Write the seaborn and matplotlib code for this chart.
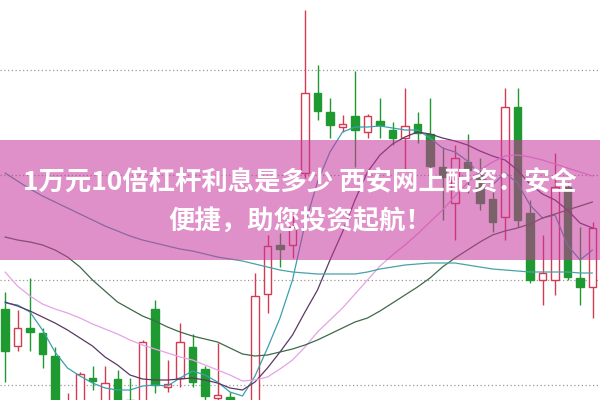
import numpy as np
import pandas as pd
import matplotlib
matplotlib.use("Agg")
import matplotlib.pyplot as plt
import seaborn as sns

# ---- data (prices) ----
opens = [8.91, 8.54, 8.72, 8.67, 8.44, 7.85, 7.80, 8.22, 7.85, 8.21, 8.00, 7.90, 8.91, 8.13, 8.22, 8.53,
         8.31, 8.02, 8.03, 7.85, 7.90, 9.06, 9.55, 9.55, 10.27, 11.07, 10.88, 10.73, 10.84, 10.68, 10.79, 10.70,
         10.62, 10.76, 10.66, 10.33, 9.97, 10.38, 10.25, 10.01, 9.83, 10.93, 9.87, 9.20, 9.20, 10.13, 9.22, 9.13]
highs = [9.08, 8.90, 9.22, 8.72, 8.53, 8.07, 8.28, 8.34, 8.34, 8.30, 8.22, 8.60, 9.00, 8.40, 8.77, 8.66,
         8.34, 8.57, 8.08, 7.97, 9.27, 9.65, 9.67, 9.85, 11.90, 11.35, 11.02, 10.85, 11.29, 10.86, 11.02, 10.78,
         11.12, 10.88, 11.02, 10.53, 10.55, 10.66, 10.42, 10.08, 11.12, 11.12, 10.00, 9.65, 10.47, 10.18, 9.73, 9.78]
lows = [8.18, 8.49, 8.49, 8.32, 7.85, 7.80, 7.75, 8.10, 7.80, 7.82, 7.80, 7.85, 8.07, 8.08, 8.13, 8.13,
        7.98, 7.95, 7.80, 7.80, 7.85, 8.87, 9.33, 9.42, 10.22, 10.80, 10.62, 10.68, 10.33, 10.62, 10.62, 10.55,
        10.30, 10.57, 10.30, 9.80, 9.60, 10.07, 9.90, 9.68, 9.60, 9.73, 9.17, 8.95, 9.05, 9.20, 8.95, 8.82]
closes = [8.49, 8.72, 8.68, 8.46, 7.90, 7.98, 8.26, 8.19, 8.17, 7.88, 7.88, 8.58, 8.15, 8.16, 8.58, 8.18,
          8.04, 8.04, 7.85, 7.95, 9.04, 9.54, 9.51, 9.73, 11.07, 10.89, 10.75, 10.75, 10.70, 10.84, 10.75, 10.62,
          10.74, 10.67, 10.34, 10.23, 10.42, 10.30, 9.97, 9.78, 10.93, 9.80, 9.20, 9.27, 10.13, 9.23, 9.13, 9.72]

ma5 = [8.97, 8.95, 8.88, 8.70, 8.48, 8.32, 8.24, 8.17, 8.12, 8.10, 8.10, 8.14, 8.15, 8.14, 8.22, 8.29,
       8.25, 8.18, 8.08, 8.04, 8.24, 8.52, 8.82, 9.20, 9.76, 10.18, 10.48, 10.68, 10.73, 10.73, 10.74, 10.72,
       10.70, 10.70, 10.62, 10.52, 10.48, 10.39, 10.25, 10.15, 10.27, 10.17, 9.95, 9.82, 9.85, 9.55, 9.40, 9.50]
ma10 = [8.98, 8.94, 8.89, 8.83, 8.77, 8.70, 8.62, 8.54, 8.43, 8.35, 8.25, 8.21, 8.20, 8.20, 8.21, 8.22,
        8.20, 8.17, 8.12, 8.10, 8.18, 8.32, 8.48, 8.65, 8.88, 9.10, 9.40, 9.68, 10.00, 10.28, 10.45, 10.56,
        10.63, 10.68, 10.66, 10.62, 10.59, 10.55, 10.49, 10.44, 10.40, 10.30, 10.16, 10.06, 10.00, 9.90, 9.77, 9.72]
ma20 = [9.28, 9.14, 9.04, 8.96, 8.91, 8.87, 8.82, 8.76, 8.71, 8.66, 8.60, 8.55, 8.51, 8.47, 8.43, 8.40,
        8.35, 8.30, 8.25, 8.19, 8.20, 8.23, 8.31, 8.40, 8.53, 8.68, 8.80, 8.92, 9.06, 9.20, 9.34, 9.45,
        9.55, 9.66, 9.78, 9.90, 10.04, 10.17, 10.30, 10.38, 10.44, 10.45, 10.43, 10.40, 10.36, 10.32, 10.28, 10.24]
ma30 = [9.63, 9.60, 9.58, 9.55, 9.50, 9.43, 9.33, 9.20, 9.09, 8.98, 8.91, 8.84, 8.79, 8.73, 8.68, 8.64,
        8.61, 8.58, 8.52, 8.46, 8.44, 8.45, 8.48, 8.51, 8.55, 8.60, 8.66, 8.72, 8.78, 8.82, 8.89, 8.97,
        9.05, 9.13, 9.22, 9.33, 9.42, 9.50, 9.58, 9.65, 9.69, 9.72, 9.76, 9.82, 9.86, 9.90, 9.94, 9.98]
ma60 = [10.27, 10.19, 10.11, 10.04, 9.98, 9.92, 9.86, 9.80, 9.74, 9.69, 9.64, 9.60, 9.57, 9.54, 9.51, 9.49,
        9.46, 9.43, 9.41, 9.39, 9.36, 9.33, 9.30, 9.28, 9.27, 9.26, 9.26, 9.26, 9.26, 9.28, 9.31, 9.33,
        9.35, 9.36, 9.37, 9.37, 9.37, 9.35, 9.33, 9.31, 9.30, 9.29, 9.28, 9.28, 9.28, 9.28, 9.27, 9.27]

grid_levels = [11.30, 10.25, 9.20, 8.15]
banner_range = (9.40, 10.60)
title_line1 = "1万元10倍杠杆利息是多少 西安网上配资：安全"
title_line2 = "便捷，助您投资起航！"

# ---- style ----
sns.set_theme(style="white")
plt.rcParams["font.family"] = ["Noto Sans CJK SC", "DejaVu Sans"]

UP = "#d43a52"
DOWN = "#1f9a30"

fig = plt.figure(figsize=(6, 4), dpi=100)
ax = fig.add_axes([0, 0, 1, 1])
ax.set_facecolor("white")

n = len(opens)
idx = np.arange(n)
o = np.array(opens); h = np.array(highs); l = np.array(lows); c = np.array(closes)
up = c >= o

for lvl in grid_levels:
    ax.axhline(lvl, color="#9a9a9a", lw=0.9, ls=(0, (1, 2)), zorder=1)

# wicks
ax.vlines(idx[up], l[up], h[up], color=UP, lw=1.0, zorder=2)
ax.vlines(idx[~up], l[~up], h[~up], color=DOWN, lw=1.0, zorder=2)
# bodies
body_bottom = np.minimum(o, c)
body_h = np.maximum(np.abs(c - o), 0.025)
ax.bar(idx[up], body_h[up], bottom=body_bottom[up], width=0.62,
       facecolor="white", edgecolor=UP, linewidth=1.0, zorder=2.5)
ax.bar(idx[~up], body_h[~up], bottom=body_bottom[~up], width=0.62,
       facecolor=DOWN, edgecolor=DOWN, linewidth=1.0, zorder=2.5)

# moving averages via seaborn
ma_df = pd.DataFrame({
    "i": np.tile(idx, 5),
    "value": np.concatenate([ma5, ma10, ma20, ma30, ma60]),
    "ma": np.repeat(["MA5", "MA10", "MA20", "MA30", "MA60"], n),
})
palette = {"MA5": "#3aa0b0", "MA10": "#5a3866", "MA20": "#e6a2e6",
           "MA30": "#3d6a48", "MA60": "#48a2a8"}
sns.lineplot(data=ma_df, x="i", y="value", hue="ma", palette=palette,
             linewidth=0.9, legend=False, ax=ax, zorder=3, estimator=None, sort=False)

# pink banner overlay
ax.axhspan(banner_range[0], banner_range[1], color=(199/255, 53/255, 155/255),
           alpha=0.55, lw=0, zorder=5)
ax.text(0.5, 0.545, title_line1, transform=ax.transAxes, ha="center", va="center",
        color="white", fontsize=19, fontweight="bold", zorder=6)
ax.text(0.5, 0.4475, title_line2, transform=ax.transAxes, ha="center", va="center",
        color="white", fontsize=19, fontweight="bold", zorder=6)

ax.set_xlim(-0.4, 47.6)
ax.set_ylim(8.0, 12.0)
ax.axis("off")

fig.savefig("out.png", dpi=100)
